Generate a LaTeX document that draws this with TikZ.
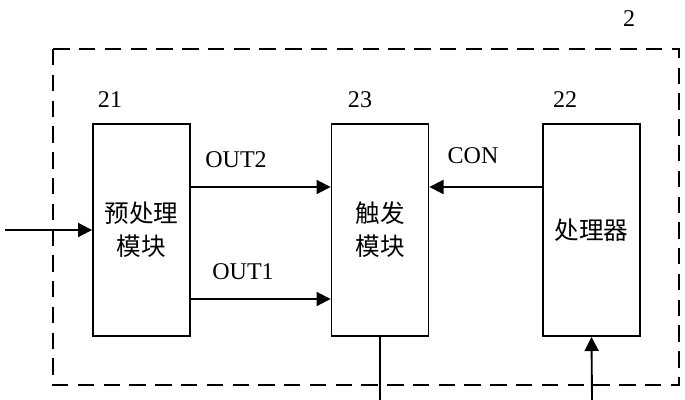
\documentclass[tikz,border=0pt]{standalone}
\usepackage{fontspec}
\setmainfont{Liberation Serif}
\newfontfamily\cjk{Noto Sans CJK SC}
\usetikzlibrary{arrows.meta}
\usetikzlibrary{positioning}

\tikzset{
    block/.style={draw, line width=1.6pt, minimum width=2.91cm, minimum height=6.36cm,
        align=center, font=\cjk\fontsize{21}{28}\selectfont},
    arr/.style={line width=1.6pt, -{Triangle[length=12pt,width=12pt]}},
    num/.style={font=\fontsize{20.5}{22}\selectfont},
}

\begin{document}
\begin{tikzpicture}[x=0.03cm, y=-0.03cm]
        \useasboundingbox (0,0) rectangle (685,400);

        % Module frame
        \draw[line width=1.6pt, dash pattern=on 14pt off 8pt] (53,49) rectangle (679,385);
        \node[num] (frame) at (629,19) {2};

        % Blocks
        \node[block] (pre) at (141.5,230) {预处理\\模块};
        \node[block] (trig) at (380,230) {触发\\模块};
        \node[block] (cpu) at (591.5,230) {处理器};

        \node[num] (n21) at (110,100) {21};
        \node[num] (n23) at (360,100) {23};
        \node[num] (n22) at (565,100) {22};

        % Connections
        \coordinate (in) at (5,230);
        \coordinate (trigout) at (380,400);
        \coordinate (cpuin) at (592,400);

        \draw[arr] (in) -- (pre.west);
        \draw[arr] ([yshift=1.29cm]pre.east) -- ([yshift=1.29cm]trig.west);
        \draw[arr] ([yshift=-2.07cm]pre.east) -- ([yshift=-2.07cm]trig.west);
        \draw[arr] ([yshift=1.29cm]cpu.west) -- ([yshift=1.29cm]trig.east);
        \draw[line width=1.6pt] (trig.south) -- (trigout);
        \draw[arr] (cpuin) -- (cpu.south);

        \node[num] (out2) at (236,160) {OUT2};
        \node[num] (out1) at (243,272) {OUT1};
        \node[num] (con) at (473,156) {CON};
    \end{tikzpicture}
\end{document}
